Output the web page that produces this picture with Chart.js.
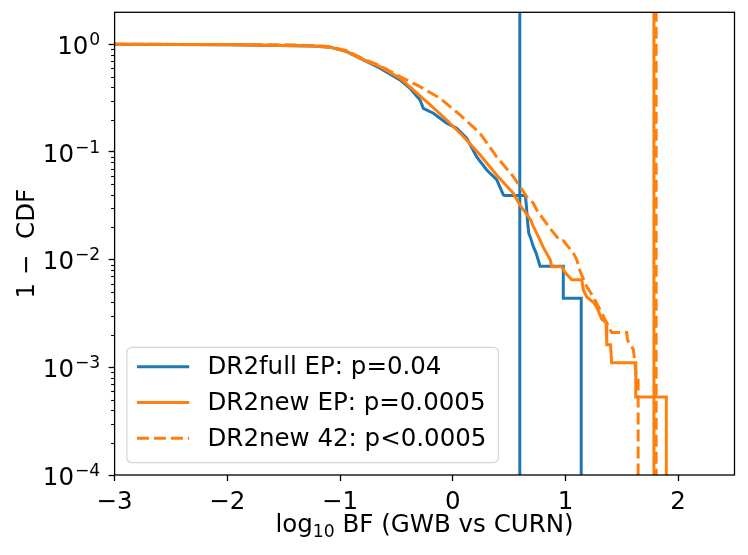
<!DOCTYPE html>
<html>
<head>
<meta charset="utf-8">
<script src="https://cdn.jsdelivr.net/npm/chart.js@4"></script>
<style>
  html, body { margin: 0; padding: 0; background: #fff; }
  #wrap { width: 748px; height: 555px; position: relative; }
</style>
</head>
<body>
<div id="wrap"><canvas id="cdfChart"></canvas></div>
<script>
// tick values
const xTicks = [-3, -2, -1, 0, 1, 2];
const yTicks = [1e-4, 1e-3, 1e-2, 1e-1, 1];

// DR2full EP survival curve
const fullEpX = [-3.0, -1.976, -1.24, -1.089, -0.94, -0.793, -0.645, -0.468, -0.379, -0.29, -0.261, -0.172, -0.053, 0.035, 0.124, 0.213, 0.30, 0.39, 0.449, 0.46, 0.645, 0.655, 0.665, 0.675, 0.69, 0.715, 0.74, 0.775, 0.981, 0.981, 1.14, 1.14];
const fullEpY = [1.0, 0.99, 0.965, 0.94, 0.854, 0.715, 0.60, 0.466, 0.39, 0.304, 0.254, 0.229, 0.185, 0.166, 0.134, 0.090, 0.0684, 0.0552, 0.040, 0.0395, 0.0395, 0.030, 0.022, 0.0176, 0.016, 0.0132, 0.0115, 0.0087, 0.0087, 0.00438, 0.00438, 1e-5];

// DR2new EP survival curve
const newEpX = [-3.0, -1.976, -1.24, -1.089, -0.94, -0.793, -0.645, -0.468, -0.35, -0.2, -0.053, 0.094, 0.242, 0.39, 0.538, 0.597, 0.69, 0.715, 0.775, 0.8, 0.864, 0.878, 0.967, 1.0, 1.056, 1.145, 1.16, 1.189, 1.25, 1.278, 1.322, 1.36, 1.367, 1.40, 1.41, 1.624, 1.624, 1.895, 1.895];
const newEpY = [1.0, 0.99, 0.965, 0.94, 0.854, 0.715, 0.62, 0.484, 0.377, 0.273, 0.198, 0.139, 0.094, 0.0612, 0.0413, 0.032, 0.0236, 0.0203, 0.0152, 0.0132, 0.0100, 0.0086, 0.0086, 0.0075, 0.0065, 0.0065, 0.0052, 0.0045, 0.0040, 0.0036, 0.0028, 0.0026, 0.00162, 0.00162, 0.0011, 0.0011, 0.00053, 0.00053, 1e-5];

// DR2new 42 survival curve
const new42X = [-3.0, -2.0, -1.5, -1.24, -1.09, -0.94, -0.79, -0.645, -0.468, -0.29, -0.113, 0.065, 0.242, 0.39, 0.538, 0.656, 0.715, 0.745, 0.863, 0.952, 0.981, 1.07, 1.10, 1.13, 1.19, 1.248, 1.336, 1.41, 1.544, 1.55, 1.603, 1.633, 1.645, 1.645];
const new42Y = [1.0, 0.995, 0.99, 0.975, 0.95, 0.87, 0.73, 0.63, 0.50, 0.404, 0.315, 0.221, 0.149, 0.090, 0.059, 0.0385, 0.0334, 0.0289, 0.0195, 0.015, 0.015, 0.0115, 0.010, 0.0078, 0.0056, 0.0045, 0.0030, 0.0021, 0.0021, 0.0018, 0.00146, 0.00076, 0.00076, 1e-5];

// observed values (vertical lines)
const observedBF = [0.595, 1.785, 1.805];
const seriesLabels = ['DR2full EP: p=0.04', 'DR2new EP: p=0.0005', 'DR2new 42: p<0.0005'];

const BLUE = '#1f77b4';
const ORANGE = '#ff7f0e';
const FONT = 'DejaVu Sans';
const FS = 24.5;
const FS_SMALL = 17.2;
const LW = 3;
const DASH = [12, 5];

const toPoints = (xs, ys) => xs.map((x, i) => ({ x, y: ys[i] }));
const vline = (x) => [{ x, y: 1e-5 }, { x, y: 100 }];
const fontStr = (size) => size + 'px "' + FONT + '"';

const framePlugin = {
  id: 'frameAndLegend',
  afterDraw(chart) {
    const { ctx, chartArea } = chart;
    const yScale = chart.scales.y;
    ctx.save();
    // minor ticks on log axis
    ctx.strokeStyle = '#000';
    ctx.lineWidth = 1.1;
    for (let e = -4; e <= 0; e++) {
      for (let k = 2; k <= 9; k++) {
        const v = k * Math.pow(10, e);
        if (v > yScale.max) continue;
        const py = Math.round(yScale.getPixelForValue(v)) + 0.5;
        ctx.beginPath();
        ctx.moveTo(chartArea.left - 3.5, py);
        ctx.lineTo(chartArea.left, py);
        ctx.stroke();
      }
    }
    // frame
    ctx.lineWidth = 1.3;
    ctx.strokeRect(chartArea.left, chartArea.top, chartArea.right - chartArea.left, chartArea.bottom - chartArea.top);

    // y tick labels, 10 with a raised exponent
    ctx.fillStyle = '#000';
    ctx.textBaseline = 'alphabetic';
    ctx.textAlign = 'left';
    const labelRight = chartArea.left - 14.3;
    yTicks.forEach((v) => {
      const py = yScale.getPixelForValue(v);
      const exp = Math.round(Math.log10(v));
      const expText = exp < 0 ? '−' + Math.abs(exp) : String(exp);
      ctx.font = fontStr(FS_SMALL);
      const expW = ctx.measureText(expText).width;
      ctx.font = fontStr(FS);
      const baseW = ctx.measureText('10').width;
      const x0 = labelRight - expW - baseW - 1;
      ctx.fillText('10', x0, py + 9.6);
      ctx.font = fontStr(FS_SMALL);
      ctx.fillText(expText, x0 + baseW + 1, py + 0.8);
    });

    // x axis title with subscript
    const parts = [
      { t: 'log', size: FS, dy: 0 },
      { t: '10', size: FS_SMALL, dy: 5 },
      { t: ' BF (GWB vs CURN)', size: FS, dy: 0 },
    ];
    let total = 0;
    parts.forEach((p) => { ctx.font = fontStr(p.size); p.w = ctx.measureText(p.t).width; total += p.w; });
    let tx = (chartArea.left + chartArea.right) / 2 - total / 2;
    const baseY = chartArea.bottom + 57;
    parts.forEach((p) => {
      ctx.font = fontStr(p.size);
      ctx.fillText(p.t, tx, baseY + p.dy);
      tx += p.w;
    });

    // legend box
    const items = chart.data.datasets.filter((d) => d.label);
    ctx.font = fontStr(FS);
    const maxW = Math.max(...items.map((d) => ctx.measureText(d.label).width));
    const boxL = chartArea.left + 12.3;
    const boxB = chartArea.bottom - 12.3;
    const rowH = 35.8;
    const boxH = 115.4;
    const boxT = boxB - boxH;
    const boxW = 80.6 + maxW + 12;
    ctx.beginPath();
    ctx.roundRect(boxL, boxT, boxW, boxH, 5);
    ctx.fillStyle = 'rgba(255,255,255,0.8)';
    ctx.fill();
    ctx.strokeStyle = '#d5d5d5';
    ctx.lineWidth = 1.2;
    ctx.stroke();
    items.forEach((d, i) => {
      const cy = boxT + 19.4 + i * rowH;
      ctx.beginPath();
      ctx.setLineDash(d.borderDash || []);
      ctx.strokeStyle = d.borderColor;
      ctx.lineWidth = LW;
      ctx.moveTo(boxL + 10, cy);
      ctx.lineTo(boxL + 62.3, cy);
      ctx.stroke();
      ctx.setLineDash([]);
      ctx.fillStyle = '#000';
      ctx.textBaseline = 'middle';
      ctx.textAlign = 'left';
      ctx.fillText(d.label, boxL + 80.6, cy + 1);
    });
    ctx.restore();
  },
};

const lineStyle = (color, dash) => ({
  borderColor: color,
  backgroundColor: color,
  borderWidth: LW,
  borderDash: dash || [],
  pointRadius: 0,
  tension: 0,
  fill: false,
  borderCapStyle: 'butt',
});

new Chart(document.getElementById('cdfChart'), {
  type: 'line',
  data: {
    datasets: [
      { label: seriesLabels[0], data: toPoints(fullEpX, fullEpY), ...lineStyle(BLUE), order: 6 },
      { data: vline(observedBF[0]), ...lineStyle(BLUE), order: 5 },
      { label: seriesLabels[1], data: toPoints(newEpX, newEpY), ...lineStyle(ORANGE), order: 4 },
      { data: vline(observedBF[1]), ...lineStyle(ORANGE), order: 3 },
      { label: seriesLabels[2], data: toPoints(new42X, new42Y), ...lineStyle(ORANGE, DASH), order: 2 },
      { data: vline(observedBF[2]), ...lineStyle(ORANGE, DASH), order: 1 },
    ],
  },
  options: {
    responsive: true,
    maintainAspectRatio: false,
    animation: false,
    events: [],
    layout: { padding: { left: 0, top: 12.3, right: 13.5, bottom: 0 } },
    plugins: {
      legend: { display: false },
      tooltip: { enabled: false },
    },
    scales: {
      x: {
        type: 'linear',
        min: -3,
        max: 2.5,
        afterBuildTicks: (scale) => { scale.ticks = xTicks.map((v) => ({ value: v })); },
        afterFit: (scale) => { scale.height = 80; scale.paddingLeft = 0; scale.paddingRight = 0; },
        border: { display: false },
        grid: { drawOnChartArea: false, drawTicks: true, tickLength: 6, tickWidth: 1.3, tickColor: '#000' },
        ticks: {
          color: '#000',
          padding: 7,
          maxRotation: 0,
          font: { family: FONT, size: FS },
          callback: (v) => (v < 0 ? '−' + Math.abs(v) : String(v)),
        },
        title: { display: false },
      },
      y: {
        type: 'logarithmic',
        min: 1e-4,
        max: 1.98,
        afterBuildTicks: (scale) => { scale.ticks = yTicks.map((v) => ({ value: v })); },
        afterFit: (scale) => { scale.width = 114.6; scale.paddingTop = 0; scale.paddingBottom = 0; },
        border: { display: false },
        grid: { drawOnChartArea: false, drawTicks: true, tickLength: 6, tickWidth: 1.3, tickColor: '#000' },
        ticks: {
          padding: 8,
          font: { family: FONT, size: FS },
          callback: () => '',
        },
        title: {
          display: true,
          text: '1 −  CDF',
          color: '#000',
          font: { family: FONT, size: FS },
          padding: { top: 12.6, bottom: 4 },
        },
      },
    },
  },
  plugins: [framePlugin],
});
</script>
</body>
</html>
